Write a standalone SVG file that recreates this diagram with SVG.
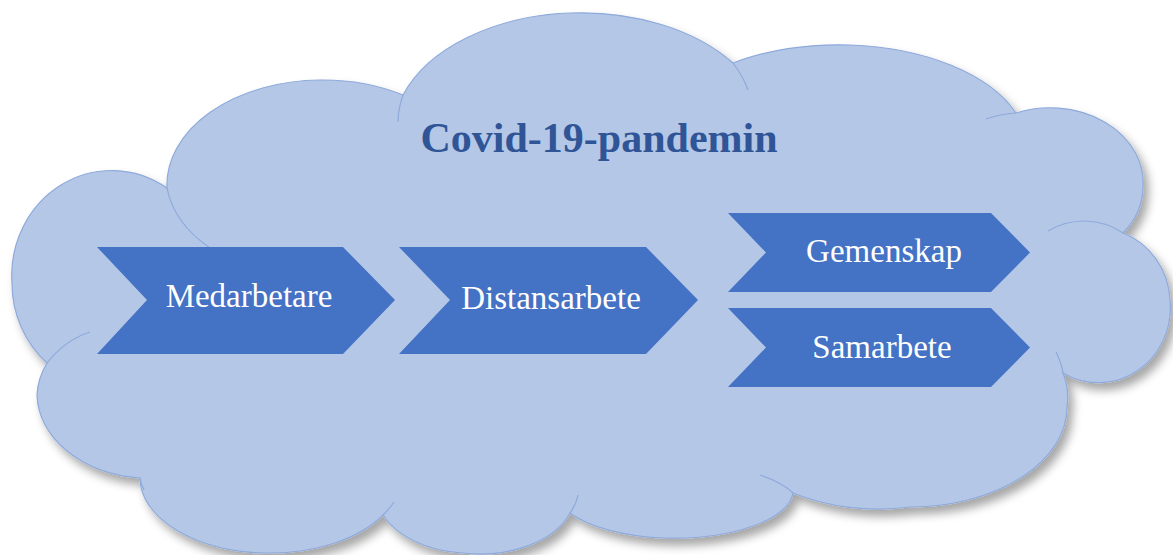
<svg xmlns="http://www.w3.org/2000/svg" width="1173" height="555" viewBox="0 0 1173 555">
  <defs>
    <filter id="shadow" x="-5%" y="-5%" width="115%" height="120%">
      <feDropShadow dx="5" dy="7" stdDeviation="5" flood-color="#000" flood-opacity="0.35"/>
    </filter>
    <style>
      .cloud { fill: #b4c7e7; stroke: #8eaadb; stroke-width: 1.2; }
      .inner { fill: none; stroke: #8eaadb; stroke-width: 1.2; }
      .chev { fill: #4472c4; }
      .lbl { font-family: "Liberation Serif", "Times New Roman", serif; font-size: 33px; fill: #ffffff; text-anchor: middle; }
      .title { font-family: "Liberation Serif", "Times New Roman", serif; font-size: 42px; font-weight: bold; fill: #2f5597; text-anchor: middle; }
    </style>
  </defs>
  <rect width="1173" height="555" fill="#ffffff"/>
  <g id="cloud">
    <path class="cloud" filter="url(#shadow)" d="M 167,188
      A 155 105 0 0 1 320,80
      A 155 105 0 0 1 403,95
      A 188 122 0 0 1 570,13
      A 188 122 0 0 1 733,63
      A 189 105 0 0 1 850,45
      A 189 105 0 0 1 1016,113
      A 93 75 0 0 1 1143,187
      A 93 75 0 0 1 1123,233
      A 72 75 0 0 1 1170,300
      A 72 75 0 0 1 1063,373
      A 157 100 0 0 1 1067,407
      A 157 100 0 0 1 910,507
      A 157 100 0 0 1 793,493
      A 120 48 0 0 1 663,538
      A 120 48 0 0 1 570,513
      A 95 60 0 0 1 463,553
      A 95 60 0 0 1 383,515
      A 130 75 0 0 1 267,553
      A 130 75 0 0 1 140,478
      A 113 85 0 0 1 37,395
      A 113 85 0 0 1 47,363
      A 100 105 0 0 1 12,283
      A 100 105 0 0 1 167,188 Z"/>
    <path class="inner" d="M 167,188 A 155 105 0 0 0 210,248"/>
    <path class="inner" d="M 403,95 A 188 122 0 0 0 398,122"/>
    <path class="inner" d="M 733,63 A 188 122 0 0 1 748,90"/>
    <path class="inner" d="M 1016,113 A 93 75 0 0 0 986,119"/>
    <path class="inner" d="M 1123,233 A 72 75 0 0 0 1048,231"/>
    <path class="inner" d="M 1063,373 A 157 100 0 0 0 1056,352"/>
    <path class="inner" d="M 793,493 A 120 48 0 0 0 760,475"/>
    <path class="inner" d="M 570,513 A 95 60 0 0 0 578,495"/>
    <path class="inner" d="M 383,515 A 130 75 0 0 0 394,502"/>
    <path class="inner" d="M 140,478 Q 141,484 144,490"/>
    <path class="inner" d="M 47,363 Q 65,340 90,332"/>
    <text class="title" x="599" y="152">Covid-19-pandemin</text>
  </g>
  <g id="connectors"></g>
  <g id="node-medarbetare">
    <polygon class="chev" points="97,247 343,247 395,300 343,354 97,354 147,300"/>
    <text class="lbl" x="249" y="307">Medarbetare</text>
  </g>
  <g id="node-distansarbete">
    <polygon class="chev" points="399,247 646,247 698,300 646,354 399,354 450,300"/>
    <text class="lbl" x="551" y="309">Distansarbete</text>
  </g>
  <g id="node-gemenskap">
    <polygon class="chev" points="728,213 991,213 1030,252.5 991,292 728,292 766,252.5"/>
    <text class="lbl" x="884" y="262">Gemenskap</text>
  </g>
  <g id="node-samarbete">
    <polygon class="chev" points="728,308 991,308 1030,347.5 991,387 728,387 766,347.5"/>
    <text class="lbl" x="882" y="358">Samarbete</text>
  </g>
</svg>
